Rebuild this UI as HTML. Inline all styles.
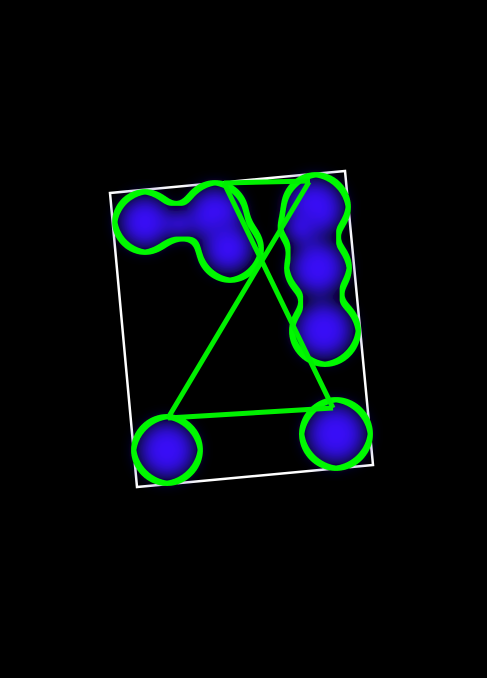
<!DOCTYPE html>
<html><head><meta charset="utf-8"><style>
html,body{margin:0;padding:0;background:#000;}
svg{display:block;}
</style></head><body>
<svg width="487" height="678" viewBox="0 0 487 678">
<defs>
<filter id="blur" x="-50%" y="-50%" width="200%" height="200%"><feGaussianBlur stdDeviation="8"/></filter>
<filter id="goo" x="0" y="0" width="487" height="678" filterUnits="userSpaceOnUse">
<feGaussianBlur in="SourceGraphic" stdDeviation="8" result="b"/>
<feColorMatrix in="b" type="matrix" values="0 0 0 0 0  0 0 0 0 0.95  0 0 0 0 0  0 0 0 40 -16" result="shape"/>
<feMorphology in="shape" operator="erode" radius="5" result="inner"/>
<feComposite in="shape" in2="inner" operator="out"/>
</filter>
<radialGradient id="bg"><stop offset="0" stop-color="#3e10ff"/><stop offset="0.6" stop-color="#340ef0"/><stop offset="1" stop-color="#180670"/></radialGradient>
</defs>
<rect width="487" height="678" fill="#000"/>
<polygon points="110,193 345,171 373,465 137,487" fill="none" stroke="#fff" stroke-width="2.5"/>
<g fill="url(#bg)" filter="url(#blur)">
<circle cx="145" cy="222" r="27"/><circle cx="180" cy="224" r="14"/><circle cx="215" cy="215" r="29"/><circle cx="228" cy="248" r="26"/>
<circle cx="315" cy="208" r="30"/><circle cx="300" cy="228" r="16"/><circle cx="318" cy="268" r="29"/><circle cx="324" cy="330" r="30"/>
<circle cx="167" cy="450" r="30"/><circle cx="336" cy="434" r="31"/>
</g>
<g fill="#fff" filter="url(#goo)">
<circle cx="145" cy="222" r="32"/><circle cx="180" cy="223" r="17"/><circle cx="215" cy="214" r="33"/><circle cx="230" cy="249" r="33"/>
<circle cx="316" cy="207" r="34"/><circle cx="298" cy="228" r="20"/><circle cx="318" cy="268" r="33"/><circle cx="325" cy="331" r="35"/>
<circle cx="167" cy="450" r="35"/><circle cx="336" cy="434" r="36"/>
</g>
<g stroke="#00f000" stroke-width="5" fill="none" stroke-linejoin="round">
<line x1="224" y1="183" x2="310" y2="181"/>
<line x1="309" y1="182" x2="168" y2="418"/>
<line x1="224" y1="183" x2="333" y2="408"/>
<line x1="168" y1="418" x2="333" y2="408"/>
</g>
</svg>
</body></html>
